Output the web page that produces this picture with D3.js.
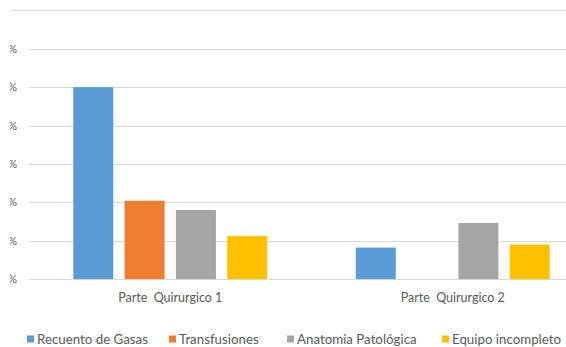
<!DOCTYPE html>
<html><head><meta charset="utf-8">
<script src="https://cdn.jsdelivr.net/npm/d3@7"></script>
<style>
body{margin:0;background:#fff;}
text{font-family:Lato, "Open Sans", sans-serif;fill:#595959;}
</style></head>
<body><svg id="c" width="566" height="347"></svg>
<script>
const categories = ["Parte  Quirurgico 1", "Parte  Quirurgico 2"];
const series = ["Recuento de Gasas", "Transfusiones", "Anatomia Patológica", "Equipo incompleto"];
const recuentoGasas = [25, 4.1];
const transfusiones = [10.2, 0];
const anatomiaPatologica = [9.0, 7.3];
const equipoIncompleto = [5.6, 4.5];
const yTicks = [0, 5, 10, 15, 20, 25, 30];
const colors = ["#5b9bd5", "#ed7d31", "#a5a5a5", "#ffc000"];

const values = [recuentoGasas, transfusiones, anatomiaPatologica, equipoIncompleto];
const svg = d3.select("#c");
const plotLeft = 29, plotRight = 594, plotTop = 10.3, plotBottom = 279.1;

const y = d3.scaleLinear().domain([0, 35]).range([plotBottom, plotTop]);
const x0 = d3.scaleBand().domain(categories).range([plotLeft, plotRight]).paddingInner(0.3133).paddingOuter(0.1567);
const x1 = d3.scaleBand().domain(series).range([0, x0.bandwidth()]).paddingInner(0.22).paddingOuter(0);

// top border line
svg.append("line").attr("x1", 12).attr("x2", 566).attr("y1", Math.round(y(35)) + 0.5).attr("y2", Math.round(y(35)) + 0.5)
  .attr("stroke", "#d9d9d9").attr("stroke-width", 1);

// gridlines
svg.append("g").selectAll("line").data(yTicks).join("line")
  .attr("x1", plotLeft).attr("x2", 566)
  .attr("y1", d => Math.round(y(d)) + 0.5).attr("y2", d => Math.round(y(d)) + 0.5)
  .attr("stroke", "#d9d9d9").attr("stroke-width", 1);

// y labels, cut at the left edge as in the reference
svg.append("clipPath").attr("id", "yclip").append("rect").attr("x", 10).attr("y", 0).attr("width", 20).attr("height", 347);
svg.append("g").attr("clip-path", "url(#yclip)").selectAll("text").data(yTicks).join("text")
  .attr("x", 17).attr("y", d => y(d) + 4)
  .attr("text-anchor", "end").attr("font-size", 11)
  .text(d => d + "%");

// bars
const g = svg.append("g");
categories.forEach((c, ci) => {
  series.forEach((s, si) => {
    const v = values[si][ci];
    if (v <= 0) return;
    g.append("rect")
      .attr("x", x0(c) + x1(s))
      .attr("y", y(v))
      .attr("width", x1.bandwidth())
      .attr("height", y(0) - y(v))
      .attr("fill", colors[si]);
  });
});

// category labels
svg.append("g").selectAll("text").data(categories).join("text")
  .attr("x", d => x0(d) + x0.bandwidth() / 2).attr("y", 302)
  .attr("text-anchor", "middle").attr("font-size", 12.5)
  .style("white-space", "pre")
  .text(d => d);

// legend
const legendX = [27, 169, 287, 442];
const lg = svg.append("g");
series.forEach((s, i) => {
  lg.append("rect").attr("x", legendX[i]).attr("y", 335.5).attr("width", 7).attr("height", 7).attr("fill", colors[i]);
  lg.append("text").attr("x", legendX[i] + 10).attr("y", 343.5).attr("font-size", 13.3).text(s);
});
</script></body></html>
